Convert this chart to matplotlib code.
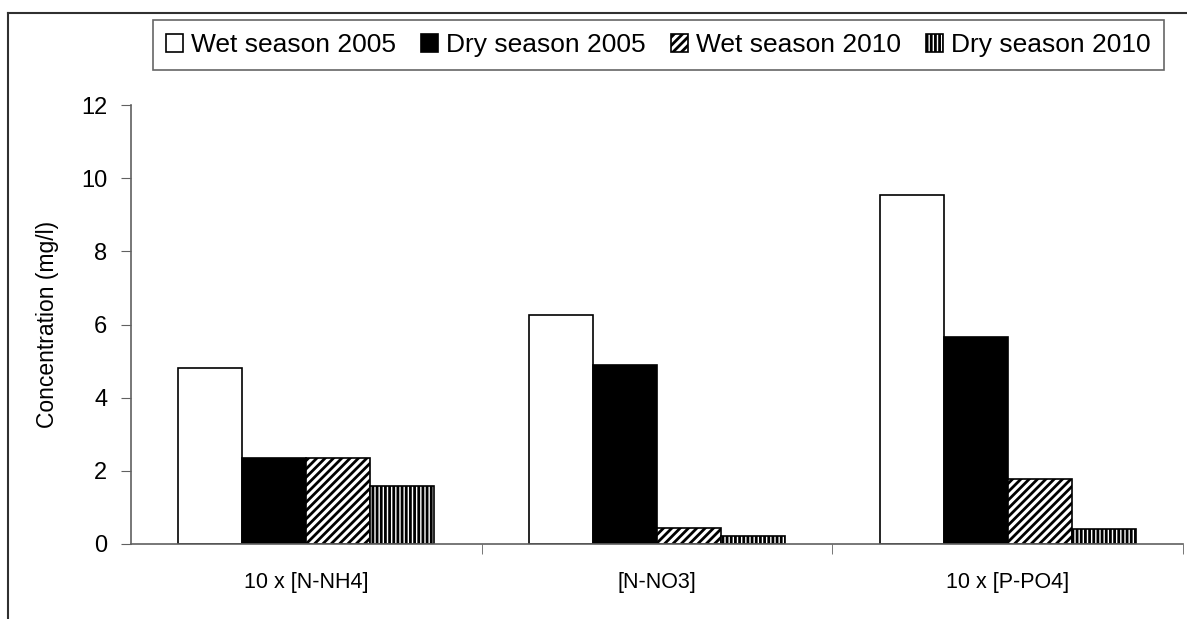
import numpy as np
import matplotlib.pyplot as plt
from matplotlib.lines import Line2D

plt.rcParams['font.family'] = ['Liberation Sans', 'DejaVu Sans']
plt.rcParams['hatch.linewidth'] = 2.0

categories = ['10 x [N-NH4]', '[N-NO3]', '10 x [P-PO4]']
series = ['Wet season 2005', 'Dry season 2005', 'Wet season 2010', 'Dry season 2010']
wet_2005 = [4.8, 6.27, 9.55]
dry_2005 = [2.35, 4.9, 5.65]
wet_2010 = [2.35, 0.45, 1.77]
dry_2010 = [1.58, 0.22, 0.4]
values = [wet_2005, dry_2005, wet_2010, dry_2010]

fills = ['white', 'black', 'white', 'white']
hatches = [None, None, '////', '||||']

fig = plt.figure(figsize=(11.87, 6.19), dpi=100)
ax = fig.add_axes([131/1187, 75/619, 1052/1187, 439/619])

x = np.arange(len(categories))
w = 0.1825
for i, vals in enumerate(values):
    ax.bar(x + (i - 1.5) * w, vals, w, color=fills[i], edgecolor='black',
           linewidth=1.2, hatch=hatches[i], label=series[i])

ax.set_xlim(-0.5, 2.5)
ax.set_ylim(0, 12)
ax.set_yticks(range(0, 13, 2))
ax.set_xticks(x)
ax.set_xticklabels(categories)
ax.set_xticks([0.5, 1.5, 2.5], minor=True)
ax.tick_params(axis='x', which='major', length=0, pad=20, labelsize=15.5)
ax.tick_params(axis='x', which='minor', length=7, color='#606060')
ax.tick_params(axis='y', length=7, color='#606060', labelsize=17, pad=10)
ax.set_ylabel('Concentration (mg/l)', fontsize=16.5, labelpad=16)
for s in ['top', 'right']:
    ax.spines[s].set_visible(False)
for s in ['left', 'bottom']:
    ax.spines[s].set_color('#606060')
    ax.spines[s].set_linewidth(1.2)

leg = fig.legend(loc='upper left', bbox_to_anchor=(153/1187, 1 - 20/619), ncol=4,
                 fontsize=19, frameon=True, fancybox=False, edgecolor='#404040',
                 handlelength=0.65, handleheight=0.65, handletextpad=0.3,
                 columnspacing=0.95, borderpad=0.5, borderaxespad=0)
leg.get_frame().set_linewidth(1.2)

# outer chart frame
fig.add_artist(Line2D([8/1187, 1.0], [1 - 13/619] * 2, color='#303030', lw=1.5))
fig.add_artist(Line2D([8/1187] * 2, [0.0, 1 - 13/619], color='#303030', lw=1.5))

fig.savefig('out.png', dpi=100)
